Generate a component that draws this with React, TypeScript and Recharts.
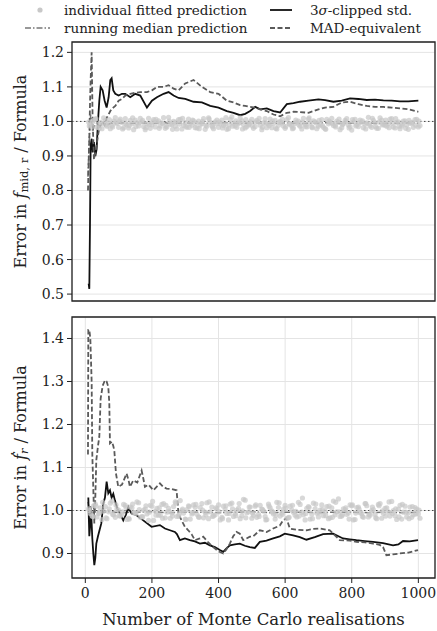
import { ComposedChart, Line, Scatter, XAxis, YAxis, CartesianGrid, ReferenceLine, ReferenceArea } from 'recharts';

// --- top panel: f_mid,r ---
const topN = [8, 10, 12, 14, 16, 19, 22, 26, 30, 34, 38, 42, 46, 52, 58, 64, 70, 75, 79, 84, 90, 100, 110, 120, 135, 150, 165, 185, 200, 215, 235, 250, 265, 280, 300, 325, 350, 375, 400, 425, 445, 465, 480, 495, 510, 525, 545, 565, 585, 605, 625, 645, 670, 700, 720, 745, 770, 795, 820, 845, 870, 895, 920, 945, 970, 1000];
const topClipped = [null, 0.53, 0.515, 0.70, 0.93, 0.95, 0.91, 0.94, 0.90, 0.92, 1.00, 1.06, 1.10, 1.09, 1.06, 1.04, 1.07, 1.12, 1.125, 1.09, 1.08, 1.075, 1.08, 1.08, 1.07, 1.08, 1.075, 1.04, 1.06, 1.07, 1.08, 1.085, 1.075, 1.068, 1.065, 1.057, 1.055, 1.045, 1.04, 1.03, 1.025, 1.018, 1.022, 1.03, 1.042, 1.035, 1.038, 1.030, 1.026, 1.050, 1.053, 1.057, 1.060, 1.064, 1.062, 1.057, 1.060, 1.067, 1.065, 1.062, 1.063, 1.061, 1.060, 1.058, 1.058, 1.060];
const topMad = [0.80, 0.88, 0.95, 1.05, 1.12, 1.20, 1.00, 0.89, 0.91, 0.93, 0.96, 0.98, 0.99, 1.00, 0.99, 1.01, 1.02, 1.03, 1.035, 1.04, 1.045, 1.06, 1.065, 1.075, 1.08, 1.083, 1.085, 1.085, 1.09, 1.10, 1.10, 1.105, 1.095, 1.09, 1.11, 1.12, 1.10, 1.085, 1.08, 1.06, 1.055, 1.047, 1.045, 1.042, 1.04, 1.035, 1.03, 1.02, 1.015, 1.025, 1.028, 1.027, 1.025, 1.035, 1.04, 1.042, 1.055, 1.057, 1.05, 1.045, 1.042, 1.042, 1.040, 1.038, 1.035, 1.028];
const topMedian = [0.84, 0.90, 0.95, 0.99, 1.02, 1.00, 0.97, 0.985, 0.99, 0.995, 0.99, 0.985, 0.99, 0.995, 0.993, 0.99, 0.992, 0.994, 0.995, 0.993, 0.994, 0.995, 0.996, 0.995, 0.994, 0.995, 0.996, 0.995, 0.994, 0.995, 0.996, 0.995, 0.994, 0.995, 0.996, 0.995, 0.995, 0.994, 0.995, 0.996, 0.995, 0.994, 0.995, 0.995, 0.996, 0.995, 0.994, 0.995, 0.995, 0.996, 0.995, 0.994, 0.995, 0.995, 0.996, 0.995, 0.994, 0.995, 0.995, 0.996, 0.995, 0.994, 0.995, 0.995, 0.996, 0.995];
const topFitsA = [0.998, 0.985, 1.006, 0.992, 0.979, 1.003, 0.995, 0.988, 1.011, 0.983, 0.997, 1.008, 0.981, 0.993, 1.004, 0.987, 0.999, 0.976, 1.009, 0.990, 0.984, 1.002, 0.996, 0.980, 1.012, 0.991, 0.986, 1.005, 0.978, 0.997, 1.007, 0.989, 0.982, 1.001, 0.994, 0.977, 1.010, 0.988, 0.999, 0.983, 1.004, 0.992, 0.979, 1.013, 0.987, 0.995, 1.002, 0.981, 0.990, 1.006, 0.985, 0.998, 0.976, 1.008, 0.993, 0.982, 1.003, 0.989, 0.996, 0.980, 1.011, 0.987, 0.994, 1.001, 0.978, 0.991, 1.007, 0.984, 0.999, 0.986, 1.005, 0.979, 0.993, 1.009, 0.988, 0.997, 0.982, 1.003, 0.990, 0.975, 1.006, 0.985, 0.998, 0.992, 1.012, 0.983, 0.996, 0.980, 1.004, 0.989, 0.994, 1.008, 0.981, 0.999, 0.987, 1.002, 0.977, 0.995, 1.005, 0.984];
const topFitsB = [0.991, 1.004, 0.983, 0.997, 1.010, 0.986, 0.979, 1.001, 0.994, 1.007, 0.982, 0.990, 1.003, 0.976, 0.996, 1.009, 0.985, 0.993, 0.980, 1.005, 0.998, 0.987, 1.011, 0.984, 0.992, 1.000, 0.978, 1.006, 0.989, 0.983, 0.995, 1.002, 0.981, 0.990, 1.008, 0.986, 0.997, 0.979, 1.004, 0.993, 0.988, 0.977, 1.006, 0.995, 0.983, 1.010, 0.991, 0.985, 0.999, 0.980, 1.003, 0.989, 0.996, 0.982, 1.007, 0.994, 0.978, 1.000, 0.987, 1.005, 0.992, 0.981, 0.998, 0.986, 1.009, 0.984, 0.995, 1.002, 0.979, 0.991, 0.983, 1.006, 0.997, 0.988, 1.001, 0.976, 0.993, 1.008, 0.985, 0.999, 0.990, 1.004, 0.982, 0.996, 0.987, 1.003, 0.980, 1.010, 0.992, 0.986, 1.007, 0.984, 0.997, 0.979, 1.001, 0.990, 0.995, 0.983, 1.006, 0.988];
const topFitsC = [0.987, 0.999, 1.008, 0.981, 0.994, 0.990, 1.005, 0.984, 0.997, 1.002, 0.978, 0.993, 0.988, 1.010, 0.985, 0.996, 1.003, 0.982, 0.991, 0.999, 1.006, 0.980, 0.994, 0.987, 1.001, 0.977, 0.998, 0.992, 1.009, 0.986, 0.983, 1.004, 0.995, 0.979, 1.000, 0.989, 1.007, 0.984, 0.993, 0.998, 0.981, 1.011, 0.990, 0.986, 1.002, 0.996, 0.978, 1.005, 0.992, 0.987, 0.999, 1.009, 0.983, 0.995, 0.988, 1.001, 0.980, 0.997, 1.006, 0.985, 0.993, 0.979, 1.004, 0.990, 0.998, 0.986, 1.010, 0.982, 0.996, 1.003, 0.988, 0.977, 1.001, 0.994, 0.984, 1.007, 0.991, 0.999, 0.981, 1.005, 0.987, 0.996, 1.002, 0.978, 0.993, 1.009, 0.985, 0.998, 0.990, 1.004, 0.982, 0.995, 1.008, 0.986, 0.992, 0.980, 1.003, 0.997, 0.989, 1.001];

// --- bottom panel: f-dot_r ---
const botClippedN = [9, 11, 12, 14, 17, 19, 21, 24, 27, 30, 33, 38, 43, 48, 54, 59, 64, 69, 74, 79, 84, 89, 96, 104, 114, 122, 129, 134, 139, 154, 174, 199, 224, 239, 254, 269, 275, 284, 299, 314, 329, 344, 359, 374, 389, 404, 414, 424, 434, 449, 464, 479, 494, 509, 524, 544, 564, 584, 599, 624, 644, 664, 689, 714, 744, 774, 794, 814, 839, 864, 894, 924, 940, 954, 974, 999];
const botClipped = [1.03, 0.97, 0.94, 0.96, 1.00, 0.97, 0.935, 0.90, 0.873, 0.89, 0.923, 0.94, 0.955, 0.97, 1.016, 1.03, 1.067, 1.04, 1.047, 1.03, 1.039, 1.023, 1.005, 0.993, 0.977, 0.99, 1.008, 1.0, 0.993, 0.989, 0.977, 0.962, 0.966, 0.958, 0.954, 0.950, 0.945, 0.931, 0.935, 0.931, 0.928, 0.923, 0.925, 0.919, 0.915, 0.908, 0.904, 0.912, 0.919, 0.921, 0.923, 0.918, 0.915, 0.913, 0.927, 0.930, 0.935, 0.940, 0.946, 0.942, 0.938, 0.932, 0.938, 0.945, 0.946, 0.935, 0.933, 0.931, 0.929, 0.927, 0.924, 0.919, 0.921, 0.929, 0.928, 0.931];
const botMadN = [8, 9, 12, 15, 19, 21, 24, 27, 30, 33, 38, 42, 46, 52, 59, 64, 69, 72, 74, 80, 84, 87, 92, 99, 110, 124, 130, 134, 144, 156, 169, 174, 179, 190, 204, 214, 224, 234, 244, 258, 274, 279, 284, 289, 299, 309, 319, 329, 344, 354, 370, 384, 400, 414, 424, 434, 444, 454, 464, 474, 484, 494, 504, 524, 544, 564, 584, 594, 604, 614, 634, 664, 684, 704, 734, 764, 794, 814, 840, 864, 884, 894, 904, 924, 944, 970, 999];
const botMad = [1.13, 1.42, 1.42, 1.40, 1.30, 1.13, 1.05, 0.97, 1.03, 1.117, 1.15, 1.171, 1.26, 1.29, 1.303, 1.30, 1.287, 1.25, 1.156, 1.16, 1.15, 1.14, 1.086, 1.055, 1.06, 1.086, 1.07, 1.055, 1.07, 1.065, 1.093, 1.075, 1.055, 1.06, 1.047, 1.055, 1.063, 1.055, 1.051, 1.05, 1.047, 1.0, 0.985, 0.977, 0.962, 0.954, 0.945, 0.931, 0.935, 0.939, 0.925, 0.915, 0.905, 0.90, 0.91, 0.923, 0.94, 0.950, 0.946, 0.931, 0.935, 0.939, 0.94, 0.954, 0.950, 0.958, 0.965, 0.977, 0.982, 0.958, 0.955, 0.954, 0.957, 0.958, 0.954, 0.931, 0.930, 0.927, 0.926, 0.923, 0.920, 0.915, 0.896, 0.898, 0.900, 0.902, 0.908];
const botMedianN = [8, 12, 16, 20, 25, 30, 40, 50, 70, 100, 150, 200, 250, 300, 350, 400, 450, 500, 550, 600, 650, 700, 750, 800, 850, 900, 950, 1000];
const botMedian = [1.02, 1.00, 1.01, 0.99, 1.00, 0.995, 0.998, 0.996, 0.997, 0.995, 0.996, 0.997, 0.995, 0.996, 0.996, 0.995, 0.996, 0.997, 0.995, 0.996, 0.996, 0.995, 0.996, 0.996, 0.995, 0.996, 0.995, 0.996];
const botFitsA = [1.004, 0.988, 1.015, 0.993, 0.979, 1.009, 0.997, 1.022, 0.984, 1.001, 0.991, 1.012, 0.982, 1.006, 0.995, 1.018, 0.986, 1.003, 0.977, 1.010, 0.998, 0.989, 1.014, 0.983, 1.005, 0.994, 1.020, 0.987, 1.000, 0.980, 1.011, 0.992, 1.007, 0.985, 1.016, 0.996, 0.981, 1.008, 0.990, 1.013, 0.984, 1.002, 0.978, 1.017, 0.993, 1.005, 0.988, 1.024, 0.997, 0.982, 1.010, 0.991, 1.003, 0.986, 1.015, 0.999, 0.980, 1.007, 0.994, 1.012, 0.983, 1.001, 0.989, 1.019, 0.996, 0.978, 1.009, 0.992, 1.004, 0.985, 1.013, 0.998, 0.981, 1.006, 0.990, 1.027, 0.987, 1.002, 0.994, 1.011, 0.979, 1.008, 0.993, 1.016, 0.985, 1.000, 0.991, 1.014, 0.982, 1.005, 0.997, 1.021, 0.988, 1.003, 0.980, 1.010, 0.995, 0.984, 1.007, 0.992];
const botFitsB = [0.993, 1.011, 0.985, 1.006, 0.998, 0.981, 1.017, 0.990, 1.003, 0.987, 1.014, 0.979, 1.008, 0.995, 1.020, 0.984, 1.001, 0.992, 1.012, 0.977, 1.005, 0.989, 1.016, 0.996, 0.982, 1.009, 0.986, 1.023, 0.994, 1.002, 0.980, 1.013, 0.991, 1.007, 0.983, 1.018, 0.997, 0.988, 1.004, 0.978, 1.010, 0.993, 1.015, 0.986, 1.001, 0.981, 1.026, 0.995, 1.008, 0.989, 0.984, 1.012, 0.999, 0.979, 1.006, 0.992, 1.019, 0.987, 1.003, 0.982, 1.010, 0.996, 0.985, 1.014, 0.990, 1.005, 0.980, 1.017, 0.994, 1.001, 0.988, 1.009, 0.983, 1.022, 0.997, 0.986, 1.004, 0.991, 1.013, 0.978, 1.007, 0.995, 0.984, 1.011, 0.989, 1.002, 0.981, 1.016, 0.993, 1.006, 0.987, 1.000, 0.979, 1.012, 0.996, 0.985, 1.008, 0.990, 1.003, 0.982];
const botFitsC = [1.000, 0.986, 1.010, 0.995, 1.019, 0.983, 1.004, 0.991, 1.013, 0.988, 0.997, 1.007, 0.980, 1.015, 0.993, 1.002, 0.985, 1.011, 0.996, 1.021, 0.989, 1.006, 0.982, 1.012, 0.998, 0.987, 1.017, 0.992, 1.003, 0.979, 1.009, 0.995, 1.014, 0.984, 1.001, 0.990, 1.020, 0.986, 1.006, 0.997, 0.981, 1.011, 0.993, 1.004, 0.988, 1.016, 0.999, 0.983, 1.008, 0.994, 1.013, 0.986, 1.002, 0.978, 1.010, 0.996, 0.989, 1.018, 0.991, 1.005, 0.984, 1.012, 0.998, 0.987, 1.029, 0.993, 1.007, 0.981, 1.015, 0.995, 1.002, 0.988, 1.010, 0.984, 1.019, 0.997, 0.990, 1.006, 0.980, 1.013, 0.994, 1.003, 0.986, 1.016, 0.991, 1.008, 0.983, 1.011, 0.999, 0.987, 1.020, 0.993, 1.004, 0.985, 1.014, 0.996, 0.981, 1.009, 0.992, 1.001];

const xTicks = [0, 200, 400, 600, 800, 1000];
const topTicks = [0.5, 0.6, 0.7, 0.8, 0.9, 1.0, 1.1, 1.2];
const botTicks = [0.9, 1.0, 1.1, 1.2, 1.3, 1.4];

const pts = (ns: number[], vs: (number | null)[]) => ns.map((n, i) => ({ n, v: vs[i] }));
// fitted predictions are plotted every 10th realisation, three interleaved runs
const fitPts = (vs: number[], start: number) => vs.map((v, i) => ({ n: start + i * 10, v }));

const XMIN = -40, XMAX = 1050;
const INK = '#222';
const FONT = 'DejaVu Serif';

const Dot = (p: any) => <circle cx={p.cx} cy={p.cy} r={2.6} fill="#c8c8c8" fillOpacity={0.7} />;

function YLabel({ viewBox, bottom }: any) {
  const x = 20;
  const y = viewBox.y + viewBox.height / 2;
  return (
    <text x={x} y={y} transform={`rotate(-90, ${x}, ${y})`} textAnchor="middle" fontSize={16} fill={INK} style={{ fontFamily: FONT }} dominantBaseline="central">
      Error in <tspan fontStyle="italic">{bottom ? 'ḟ' : 'f'}</tspan>
      <tspan dy={4} fontSize={11.5} fontStyle={bottom ? 'italic' : 'normal'}>{bottom ? 'r' : 'mid, r'}</tspan>
      <tspan dy={-4}> / Formula</tspan>
    </text>
  );
}

function XLabel({ viewBox }: any) {
  return (
    <text x={viewBox.x + viewBox.width / 2} y={viewBox.y + 47} textAnchor="middle" fontSize={16.5} fill={INK} style={{ fontFamily: FONT }}>
      Number of Monte Carlo realisations
    </text>
  );
}

function Panel({ bottom }: { bottom: boolean }) {
  const domain = bottom ? [0.843, 1.45] : [0.48, 1.23];
  const tickStyle = { fontSize: 14, fill: INK, style: { fontFamily: FONT } };
  return (
    <ComposedChart width={437} height={bottom ? 321 : 310} margin={{ top: bottom ? 7 : 42, right: 2, bottom: 0, left: 0 }} style={{ fontFamily: FONT }}>
      <CartesianGrid stroke="#e4e4e4" strokeWidth={1} />
      <XAxis
        dataKey="n" type="number" domain={[XMIN, XMAX]} ticks={xTicks} allowDataOverflow
        height={bottom ? 53 : 9} axisLine={false} tickSize={5} tickLine={{ stroke: INK }}
        tick={bottom ? tickStyle : false} tickMargin={5}
        label={bottom ? <XLabel /> : undefined}
      />
      <YAxis
        dataKey="v" type="number" domain={domain} ticks={bottom ? botTicks : topTicks} allowDataOverflow
        width={72} axisLine={false} tickSize={5} tickLine={{ stroke: INK }} tick={tickStyle} tickMargin={3}
        tickFormatter={(v: number) => v.toFixed(1)}
        label={<YLabel bottom={bottom} />}
      />
      <ReferenceLine y={1} stroke="#444" strokeWidth={1} strokeDasharray="1.5 2.5" />
      <Scatter data={fitPts(bottom ? botFitsA : topFitsA, 10)} shape={Dot} isAnimationActive={false} />
      <Scatter data={fitPts(bottom ? botFitsB : topFitsB, 15)} shape={Dot} isAnimationActive={false} />
      <Scatter data={fitPts(bottom ? botFitsC : topFitsC, 12)} shape={Dot} isAnimationActive={false} />
      <Line
        data={bottom ? pts(botMedianN, botMedian) : pts(topN, topMedian)} dataKey="v" type="linear"
        stroke="#777" strokeWidth={1.5} strokeDasharray="6 2 1.5 2" dot={false} isAnimationActive={false}
      />
      <Line
        data={bottom ? pts(botClippedN, botClipped) : pts(topN, topClipped)} dataKey="v" type="linear"
        stroke="#111" strokeWidth={1.8} dot={false} isAnimationActive={false}
      />
      <Line
        data={bottom ? pts(botMadN, botMad) : pts(topN, topMad)} dataKey="v" type="linear"
        stroke="#5a5a5a" strokeWidth={1.8} strokeDasharray="5 2.5" dot={false} isAnimationActive={false}
      />
      <ReferenceArea x1={XMIN} x2={XMAX} y1={domain[0]} y2={domain[1]} fill="none" stroke={INK} strokeWidth={1.3} ifOverflow="visible" />
    </ComposedChart>
  );
}

function Legend() {
  const t = { fontSize: 13.5, fill: INK, style: { fontFamily: FONT } };
  return (
    <svg width={437} height={40} style={{ position: 'absolute', left: 0, top: 0 }}>
      <circle cx={40} cy={10} r={2.6} fill="#c8c8c8" />
      <text x={64} y={14.5} {...t}>individual fitted prediction</text>
      <line x1={25} y1={28} x2={50} y2={28} stroke="#777" strokeWidth={1.5} strokeDasharray="6 2 1.5 2" />
      <text x={64} y={32.5} {...t}>running median prediction</text>
      <line x1={270} y1={10} x2={292} y2={10} stroke="#111" strokeWidth={1.8} />
      <text x={310} y={14.5} {...t}>3<tspan fontStyle="italic">σ</tspan>-clipped std.</text>
      <line x1={270} y1={28} x2={292} y2={28} stroke="#5a5a5a" strokeWidth={1.8} strokeDasharray="5 2.5" />
      <text x={310} y={32.5} {...t}>MAD-equivalent</text>
    </svg>
  );
}

export default function App() {
  return (
    <div style={{ position: 'absolute', left: 0, top: 0, width: 437, height: 631, background: '#fff', fontFamily: FONT }}>
      <div style={{ position: 'absolute', left: 0, top: 0 }}>
        <Panel bottom={false} />
      </div>
      <div style={{ position: 'absolute', left: 0, top: 310 }}>
        <Panel bottom={true} />
      </div>
      <Legend />
    </div>
  );
}
